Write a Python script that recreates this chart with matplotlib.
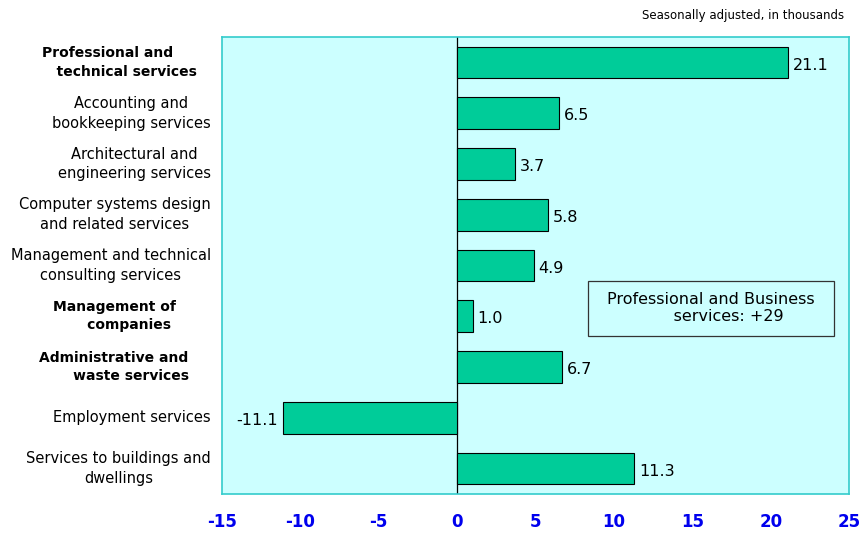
import numpy as np
import matplotlib.pyplot as plt
from matplotlib.patches import Rectangle

labels = ['Professional and\n   technical services',
          'Accounting and\nbookkeeping services',
          'Architectural and\nengineering services',
          'Computer systems design\nand related services',
          'Management and technical\nconsulting services',
          'Management of\n       companies',
          'Administrative and\n       waste services',
          'Employment services',
          'Services to buildings and\ndwellings']
bold = [True, False, False, False, False, True, True, False, False]
values = [21.1, 6.5, 3.7, 5.8, 4.9, 1.0, 6.7, -11.1, 11.3]
ticks = [-15, -10, -5, 0, 5, 10, 15, 20, 25]

fig = plt.figure(figsize=(8.63, 5.38), dpi=100)
ax = fig.add_axes([0.257, 0.082, 0.727, 0.849])
ax.set_facecolor('#CCFFFF')
for s in ax.spines.values():
    s.set_color('#33CCCC')
    s.set_linewidth(1.2)

y = np.arange(len(values))
ax.barh(y, values, height=0.63, color='#00CC99', edgecolor='black', linewidth=0.8, zorder=3)
ax.axvline(0, color='black', linewidth=0.9, zorder=2)
ax.set_xlim(-15, 25)
ax.set_ylim(len(values) - 0.5, -0.5)

for yi, v in zip(y, values):
    if v >= 0:
        ax.text(v + 0.3, yi + 0.05, f'{v:.1f}', va='center', ha='left', fontsize=11.5)
    else:
        ax.text(v - 0.3, yi + 0.05, f'{v:.1f}', va='center', ha='right', fontsize=11.5)

# category labels drawn by hand so the bold ones can sit further left
ax.set_yticks([])
right_px = {0: -25, 5: -46, 6: -33}
for yi, lab, b in zip(y, labels, bold):
    dx = right_px.get(yi, -11)
    ax.annotate(lab, xy=(0, yi), xycoords=ax.get_yaxis_transform(),
                xytext=(dx * 0.72, 0), textcoords='offset points',
                ha='right', va='center', linespacing=1.4,
                multialignment='left' if b else 'center',
                fontsize=10 if b else 10.5,
                fontweight='bold' if b else 'normal')

ax.set_xticks(ticks)
ax.set_xticklabels([str(t) for t in ticks], fontsize=12, fontweight='bold', color='#0000EE')
ax.tick_params(axis='x', length=0, pad=14)

ax.add_patch(Rectangle((8.33, 4.30), 15.67, 1.08, facecolor='#CCFFFF',
                       edgecolor='#333333', linewidth=0.9, zorder=4))
ax.text(8.33 + 15.67 / 2, 4.84, 'Professional and Business\n             services: +29',
        ha='center', va='center', fontsize=11.5, multialignment='left', zorder=5)

fig.text(0.978, 0.972, 'Seasonally adjusted, in thousands', ha='right', va='center', fontsize=8.5)

fig.savefig('out.png', dpi=100)
